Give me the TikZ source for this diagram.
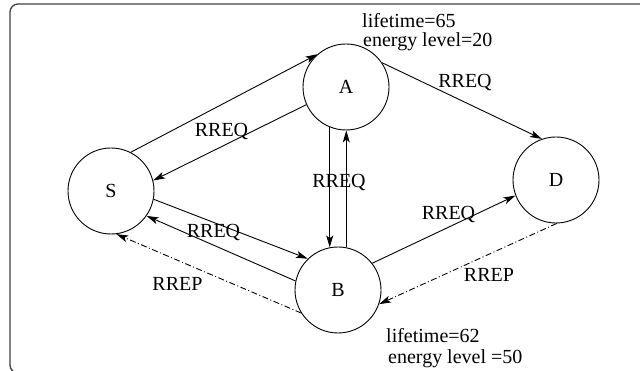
\documentclass[tikz,border=0pt]{standalone}
\usepackage{fontspec}
\setmainfont{Liberation Serif}
\usetikzlibrary{arrows.meta,calc}
\begin{document}
\begin{tikzpicture}[x=1pt,y=-1pt,
  every node/.style={font=\fontsize{20}{24}\selectfont},
  station/.style={draw,circle,minimum size=86pt,inner sep=0pt,line width=0.9pt},
  link/.style={line width=0.9pt,-{Stealth[length=12pt,width=7pt,inset=3pt]}},
  reply/.style={link,dash pattern=on 6pt off 2.5pt on 1pt off 2.5pt},
  lbl/.style={anchor=base,inner sep=0pt},
  note/.style={anchor=base west,inner sep=0pt}]
\useasboundingbox (0,0) rectangle (640,371);
\begin{scope}
\clip (0,0) rectangle (640,371);
\draw[line width=1.3pt,draw=black!75,rounded corners=8pt] (10,4) rectangle (660,373);
\end{scope}
\node[station] (S) at (111,191) {S};
\node[station] (A) at (346,87) {A};
\node[station] (D) at (556,180) {D};
\node[station] (B) at (338,290) {B};
% connectors
\draw[link] (S.63) -- (A.131);
\draw[link] (A.204) -- (S.14);
\draw[link] (A.34) -- (D.109);
\draw[link] (A.248) -- (A.248 |- B.101);
\draw[link] (B.79) -- (B.79 |- A.south);
\draw[link] (S.349.5) -- (B.134);
\draw[link] (B.168) -- (S.325.6);
\draw[link] (B.38.5) -- (D.201.6);
\draw[reply] (D.271) -- (B.341.6);
\draw[reply] (B.212) -- (S.277);
% labels
\node[lbl] (l1) at (465,88) {RREQ};
\node[lbl] (l2) at (221.5,136.5) {RREQ};
\node[lbl] (l3) at (339,188) {RREQ};
\node[lbl] (l4) at (213.5,238) {RREQ};
\node[lbl] (l5) at (448.5,220) {RREQ};
\node[lbl] (l6) at (177.5,291) {RREP};
\node[lbl] (l7) at (489,281.5) {RREP};
\node[note] (n1) at (362,28) {lifetime=65};
\node[note] (n2) at (363,47) {energy level=20};
\node[note] (n3) at (386,342) {lifetime=62};
\node[note] (n4) at (388,363) {energy level =50};
\end{tikzpicture}
\end{document}
